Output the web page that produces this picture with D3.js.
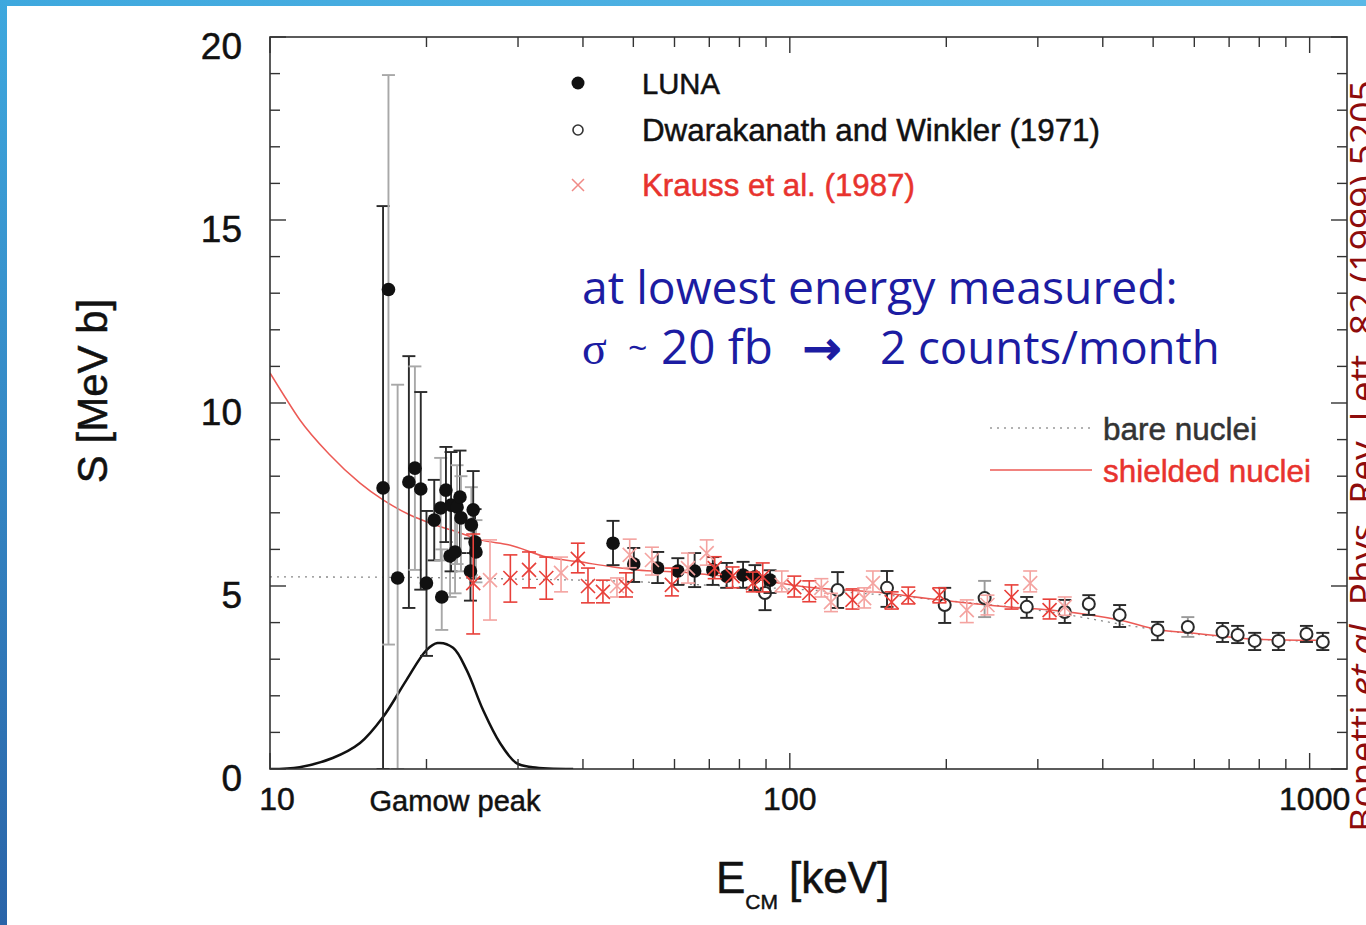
<!DOCTYPE html>
<html>
<head>
<meta charset="utf-8">
<script src="https://cdn.jsdelivr.net/npm/d3@7"></script>
<style>
  body { margin: 0; background: #fff; }
  svg { display: block; }
</style>
</head>
<body>
<div id="chart"></div>
<script>
// LUNA data: [E keV, S MeV b, lower, upper, grey bar]
var luna = [
  [16.5, 7.68, 0, 15.38, 0], [16.9, 13.1, 3.4, 18.96, 1], [17.6, 5.22, 0, 10.5, 1],
  [18.5, 7.84, 4.4, 11.28, 0], [19.0, 8.22, 5.44, 11.0, 1], [19.5, 7.65, 4.9, 10.3, 0],
  [20.0, 5.08, 3.09, 7.05, 0], [20.7, 6.80, 5.7, 7.9, 0], [21.3, 7.13, 5.7, 8.5, 1],
  [21.4, 4.70, 3.8, 6.0, 1], [21.8, 7.62, 6.2, 8.8, 0], [22.2, 5.82, 4.7, 7.2, 1],
  [22.3, 7.21, 5.4, 8.66, 0], [22.7, 5.93, 4.8, 7.3, 1], [22.9, 7.16, 5.6, 8.3, 1],
  [23.2, 7.43, 5.9, 8.7, 0], [23.3, 6.86, 5.4, 8.0, 1], [24.4, 6.67, 5.3, 7.7, 1],
  [24.6, 7.08, 5.9, 8.14, 0], [24.8, 6.20, 5.2, 7.1, 0], [24.9, 5.93, 5.1, 6.8, 1],
  [24.3, 5.41, 4.6, 6.3, 0],
  [45.7, 6.17, 5.57, 6.78, 0], [50.1, 5.60, 5.11, 6.04, 0], [55.7, 5.49, 5.08, 5.93, 0],
  [60.9, 5.41, 5.03, 5.76, 0], [65.6, 5.41, 4.97, 5.90, 0], [71.1, 5.44, 5.03, 5.79, 0],
  [75.6, 5.27, 4.95, 5.63, 0], [81.3, 5.30, 4.95, 5.66, 0], [85.7, 5.25, 4.89, 5.57, 0],
  [91.6, 5.16, 4.81, 5.43, 0]
];

// Dwarakanath and Winkler (1971)
var dwarakanath = [
  [89.6, 4.81, 4.34, 5.25, 0], [123.6, 4.89, 4.40, 5.38, 0], [153.8, 4.95, 4.43, 5.41, 0],
  [198.6, 4.48, 3.99, 4.95, 0], [237, 4.67, 4.15, 5.14, 1], [285.6, 4.43, 4.13, 4.70, 0],
  [338, 4.29, 3.99, 4.62, 0], [376, 4.51, 4.21, 4.75, 0], [431, 4.21, 3.88, 4.48, 0],
  [510, 3.80, 3.52, 4.02, 0], [583, 3.88, 3.61, 4.15, 1], [680, 3.74, 3.47, 3.99, 0],
  [727, 3.66, 3.44, 3.91, 0], [784, 3.50, 3.25, 3.72, 0], [871, 3.50, 3.25, 3.72, 0],
  [986, 3.69, 3.47, 3.91, 0], [1060, 3.47, 3.25, 3.72, 0]
];

// Krauss et al. (1987), last flag = faint
var krauss = [
  [24.6, 5.08, 3.69, 6.42, 0], [26.5, 5.16, 4.07, 6.26, 1], [29.0, 5.22, 4.56, 5.85, 0],
  [31.5, 5.44, 4.95, 5.93, 0], [34.0, 5.22, 4.64, 5.79, 0], [36.3, 5.36, 4.84, 5.79, 1],
  [39.1, 5.74, 5.36, 6.17, 0], [40.9, 5.00, 4.54, 5.49, 0], [43.7, 4.84, 4.54, 5.16, 0],
  [46.5, 5.00, 4.70, 5.22, 1], [48.4, 5.00, 4.70, 5.36, 0], [49.2, 5.85, 5.50, 6.28, 1],
  [54.3, 5.71, 5.30, 6.06, 1], [59.3, 5.03, 4.73, 5.49, 0], [63.7, 5.49, 5.08, 5.90, 1],
  [69.2, 5.90, 5.57, 6.26, 1], [71.7, 5.49, 5.20, 5.80, 0], [77.6, 5.27, 4.95, 5.52, 0],
  [84.9, 5.08, 4.84, 5.38, 0], [88.7, 5.25, 4.84, 5.63, 0], [96.5, 5.03, 4.84, 5.41, 1],
  [102, 4.97, 4.70, 5.27, 0], [109, 4.81, 4.57, 5.14, 0], [115, 4.95, 4.70, 5.20, 1],
  [120, 4.56, 4.30, 4.80, 1], [132, 4.62, 4.37, 4.92, 0], [139, 4.67, 4.40, 4.95, 1],
  [144.5, 5.08, 4.84, 5.41, 1], [157, 4.56, 4.37, 4.84, 0], [169, 4.70, 4.51, 4.97, 0],
  [194, 4.75, 4.54, 4.95, 0], [219, 4.34, 4.00, 4.62, 1], [240, 4.48, 4.21, 4.75, 1],
  [267, 4.70, 4.37, 5.03, 0], [290, 5.08, 4.84, 5.41, 1], [316, 4.34, 4.10, 4.64, 0],
  [338, 4.43, 4.20, 4.70, 1]
];

// curves: [E, S]
var shielded = [
  [10, 10.82], [10.7, 10.15], [11.4, 9.55], [13.0, 8.6], [14.9, 7.81], [16.5, 7.35],
  [18.6, 6.94], [20.3, 6.72], [23.2, 6.45], [25.4, 6.26], [28.9, 6.12], [34.1, 5.79],
  [39.4, 5.66], [45.7, 5.52], [50.8, 5.44], [61.4, 5.38], [71.1, 5.30], [82.6, 5.22],
  [92.7, 5.11], [107.9, 4.97], [144.5, 4.84], [194, 4.62], [261, 4.43], [320, 4.34],
  [431, 4.07], [515, 3.80], [588, 3.72], [680, 3.63], [777, 3.55], [956, 3.52], [1030, 3.52]
];
var bare = [
  [10, 5.25], [20, 5.23], [30, 5.19], [50, 5.12], [70, 5.02], [100, 4.92], [150, 4.76],
  [200, 4.6], [300, 4.34], [500, 3.82], [700, 3.6], [1000, 3.5], [1030, 3.5]
];
var gamow = [
  [10, 0], [11.4, 0.05], [13.2, 0.30], [14.9, 0.71], [16.5, 1.42], [18.3, 2.43],
  [20.0, 3.25], [21.0, 3.44], [22.5, 3.31], [23.9, 2.70], [25.7, 1.61], [27.7, 0.71],
  [29.8, 0.16], [32.0, 0.05], [38.3, 0]
];

var yTicks = [0, 5, 10, 15, 20];
var xTicks = [10, 100, 1000];

var width = 1366, height = 925;
var pLeft = 270, pRight = 1347, pTop = 37, pBottom = 769;

var x = d3.scaleLog().domain([10, 1180]).range([pLeft, pRight]);
var y = d3.scaleLinear().domain([0, 20]).range([pBottom, pTop]);

var svg = d3.select("#chart").append("svg")
    .attr("width", width)
    .attr("height", height);

var defs = svg.append("defs");
var gTop = defs.append("linearGradient").attr("id", "topband");
gTop.append("stop").attr("offset", "0%").attr("stop-color", "#3ea8de");
gTop.append("stop").attr("offset", "100%").attr("stop-color", "#5bb8e6");
var gLeft = defs.append("linearGradient").attr("id", "leftband")
    .attr("x1", 0).attr("y1", 0).attr("x2", 0).attr("y2", 1);
gLeft.append("stop").attr("offset", "0%").attr("stop-color", "#3ea8de");
gLeft.append("stop").attr("offset", "100%").attr("stop-color", "#2a64a8");
defs.append("clipPath").attr("id", "plotclip")
    .append("rect").attr("x", pLeft).attr("y", pTop)
    .attr("width", pRight - pLeft).attr("height", pBottom - pTop);

// slide border
svg.append("rect").attr("x", 0).attr("y", 0).attr("width", width).attr("height", 6)
    .attr("fill", "url(#topband)");
svg.append("rect").attr("x", 0).attr("y", 0).attr("width", 7).attr("height", height)
    .attr("fill", "url(#leftband)");

var plot = svg.append("g").attr("clip-path", "url(#plotclip)");

var line = d3.line()
    .x(function(d) { return x(d[0]); })
    .y(function(d) { return y(d[1]); })
    .curve(d3.curveMonotoneX);

// bare nuclei (dotted)
plot.append("path").datum(bare)
    .attr("d", line).attr("fill", "none")
    .attr("stroke", "#888").attr("stroke-width", 1.3)
    .attr("stroke-dasharray", "2,5");

// shielded nuclei
plot.append("path").datum(shielded)
    .attr("d", line).attr("fill", "none")
    .attr("stroke", "#ec5a55").attr("stroke-width", 1.5);

// Gamow peak
plot.append("path").datum(gamow)
    .attr("d", line.curve(d3.curveCatmullRom.alpha(0.5))).attr("fill", "none")
    .attr("stroke", "#111").attr("stroke-width", 2.5);
line.curve(d3.curveMonotoneX);

function errorBars(g, data, colorFn, cap, sw) {
    var eb = g.selectAll(null).data(data).enter().append("g")
        .attr("stroke", colorFn).attr("stroke-width", sw);
    eb.append("line")
        .attr("x1", function(d) { return x(d[0]); })
        .attr("x2", function(d) { return x(d[0]); })
        .attr("y1", function(d) { return y(d[2]); })
        .attr("y2", function(d) { return y(d[3]); });
    eb.append("line")
        .attr("x1", function(d) { return x(d[0]) - cap; })
        .attr("x2", function(d) { return x(d[0]) + cap; })
        .attr("y1", function(d) { return y(d[3]); })
        .attr("y2", function(d) { return y(d[3]); });
    eb.append("line")
        .attr("x1", function(d) { return x(d[0]) - cap; })
        .attr("x2", function(d) { return x(d[0]) + cap; })
        .attr("y1", function(d) { return y(d[2]); })
        .attr("y2", function(d) { return y(d[2]); });
}

// Dwarakanath
errorBars(plot, dwarakanath, function(d) { return d[4] ? "#9a9a9a" : "#2a2a2a"; }, 6.5, 1.9);
plot.selectAll(null).data(dwarakanath).enter().append("circle")
    .attr("cx", function(d) { return x(d[0]); })
    .attr("cy", function(d) { return y(d[1]); })
    .attr("r", 6)
    .attr("fill", "#fff").attr("stroke", "#2a2a2a").attr("stroke-width", 2);

// LUNA
errorBars(plot, luna, function(d) { return d[4] ? "#a8a8a8" : "#2a2a2a"; }, 6.5, 1.9);
plot.selectAll(null).data(luna).enter().append("circle")
    .attr("cx", function(d) { return x(d[0]); })
    .attr("cy", function(d) { return y(d[1]); })
    .attr("r", 6.8)
    .attr("fill", "#111");

// Krauss
var kColor = function(d) { return d[4] ? "#f4a3a0" : "#e8403a"; };
errorBars(plot, krauss, kColor, 7, 1.6);
plot.selectAll(null).data(krauss).enter().append("path")
    .attr("d", function(d) {
        var cx = x(d[0]), cy = y(d[1]), s = 7;
        return "M" + (cx - s) + "," + (cy - s) + "L" + (cx + s) + "," + (cy + s) +
               "M" + (cx - s) + "," + (cy + s) + "L" + (cx + s) + "," + (cy - s);
    })
    .attr("stroke", kColor).attr("stroke-width", 1.6).attr("fill", "none");

// frame + ticks
var axisColor = "#333";
svg.append("rect").attr("x", pLeft).attr("y", pTop)
    .attr("width", pRight - pLeft).attr("height", pBottom - pTop)
    .attr("fill", "none").attr("stroke", axisColor).attr("stroke-width", 1.6);

var yMinor = d3.range(0, 21);
var ticksG = svg.append("g").attr("stroke", axisColor).attr("stroke-width", 1.4);
yMinor.forEach(function(v) {
    var len = (v % 5 === 0) ? 16 : 10;
    ticksG.append("line").attr("x1", pLeft).attr("x2", pLeft + len).attr("y1", y(v)).attr("y2", y(v));
    ticksG.append("line").attr("x1", pRight).attr("x2", pRight - len).attr("y1", y(v)).attr("y2", y(v));
});
var xMinor = [];
[10, 100, 1000].forEach(function(dec) {
    for (var k = 1; k < 10; k++) {
        var v = dec * k;
        if (v >= 10 && v <= 1180) xMinor.push(v);
    }
});
xMinor.forEach(function(v) {
    var len = (xTicks.indexOf(v) >= 0) ? 16 : 10;
    ticksG.append("line").attr("x1", x(v)).attr("x2", x(v)).attr("y1", pBottom).attr("y2", pBottom - len);
    ticksG.append("line").attr("x1", x(v)).attr("x2", x(v)).attr("y1", pTop).attr("y2", pTop + len);
});

var sans = "'Liberation Sans', Arial, Helvetica, sans-serif";

function fitWidth(t, w) {
    var fs = +t.attr("font-size");
    var cur = t.node().getComputedTextLength();
    t.attr("font-size", fs * w / cur);
}
function heavy(t, c) {
    return t.attr("stroke", c).attr("stroke-width", 0.5);
}

svg.selectAll(".ylab").data(yTicks).enter().append("text")
    .attr("x", 242)
    .attr("y", function(d) { return y(d) + 22; })
    .attr("text-anchor", "end")
    .attr("font-family", sans).attr("font-size", 37).attr("fill", "#111")
    .attr("stroke", "#111").attr("stroke-width", 0.5)
    .text(function(d) { return d; });

svg.selectAll(".xlab").data(xTicks).enter().append("text")
    .attr("x", function(d) { return x(d) + (d === 10 ? 7 : (d === 1000 ? 5 : 0)); })
    .attr("y", 810)
    .attr("text-anchor", "middle")
    .attr("font-family", sans).attr("font-size", 32).attr("fill", "#111")
    .attr("stroke", "#111").attr("stroke-width", 0.5)
    .text(function(d) { return d; });

heavy(svg.append("text").attr("x", 455).attr("y", 811)
    .attr("text-anchor", "middle")
    .attr("font-family", sans).attr("font-size", 29).attr("fill", "#111")
    .text("Gamow peak"), "#111");

// axis titles
heavy(svg.append("text")
    .attr("transform", "translate(107,391) rotate(-90)")
    .attr("text-anchor", "middle")
    .attr("font-family", sans).attr("font-size", 42).attr("fill", "#111")
    .text("S [MeV b]"), "#111");

var xt = svg.append("text").attr("x", 716).attr("y", 893)
    .attr("font-family", sans).attr("font-size", 44).attr("fill", "#111")
    .attr("stroke", "#111").attr("stroke-width", 0.5);
xt.append("tspan").text("E");
xt.append("tspan").attr("font-size", 21).attr("dy", 16).text("CM");
xt.append("tspan").attr("x", 789).attr("dy", -16).text("[keV]");

// legend (data sets)
var legY = [83, 130, 185];
svg.append("circle").attr("cx", 578).attr("cy", legY[0]).attr("r", 6.5).attr("fill", "#111");
svg.append("circle").attr("cx", 578).attr("cy", legY[1]).attr("r", 5)
    .attr("fill", "#fff").attr("stroke", "#333").attr("stroke-width", 1.6);
svg.append("path")
    .attr("d", "M572," + (legY[2] - 6) + "L584," + (legY[2] + 6) + "M572," + (legY[2] + 6) + "L584," + (legY[2] - 6))
    .attr("stroke", "#f08a86").attr("stroke-width", 1.5);
var legNames = ["LUNA", "Dwarakanath and Winkler (1971)", "Krauss et al. (1987)"];
var legColors = ["#111", "#111", "#e8332e"];
var legWidths = [78, 458, 273];
legNames.forEach(function(n, i) {
    var t = svg.append("text").attr("x", 642).attr("y", legY[i] + 11)
        .attr("font-family", sans).attr("font-size", 30).attr("fill", legColors[i])
        .text(n);
    heavy(t, legColors[i]);
    fitWidth(t, legWidths[i]);
});

// legend (curves)
svg.append("line").attr("x1", 990).attr("x2", 1090).attr("y1", 428).attr("y2", 428)
    .attr("stroke", "#999").attr("stroke-width", 1.3).attr("stroke-dasharray", "2,5");
svg.append("line").attr("x1", 990).attr("x2", 1092).attr("y1", 470).attr("y2", 470)
    .attr("stroke", "#ec5a55").attr("stroke-width", 1.6);
var bn = heavy(svg.append("text").attr("x", 1103).attr("y", 440)
    .attr("font-family", sans).attr("font-size", 30).attr("fill", "#333").text("bare nuclei"), "#333");
fitWidth(bn, 154);
var sn = heavy(svg.append("text").attr("x", 1103).attr("y", 482)
    .attr("font-family", sans).attr("font-size", 30).attr("fill", "#e8332e").text("shielded nuclei"), "#e8332e");
fitWidth(sn, 208);

// annotation
var blue = "#1c1ca2";
var ann = "'Open Sans', 'Noto Sans', sans-serif";
var a1 = svg.append("text").attr("x", 582).attr("y", 304)
    .attr("font-family", ann).attr("font-size", 44).attr("fill", blue)
    .text("at lowest energy measured:");
fitWidth(a1, 596);

svg.append("text").attr("x", 582).attr("y", 364)
    .attr("font-family", "'Liberation Serif', 'DejaVu Serif', serif").attr("font-size", 46)
    .attr("fill", blue).text("σ");
svg.append("text").attr("x", 628).attr("y", 360)
    .attr("font-family", ann).attr("font-size", 34).attr("fill", blue).text("~");
var a2 = svg.append("text").attr("x", 661).attr("y", 364)
    .attr("font-family", ann).attr("font-size", 44).attr("fill", blue).text("20 fb");
fitWidth(a2, 112);
svg.append("text").attr("x", 803).attr("y", 364)
    .attr("font-family", "'DejaVu Sans', sans-serif").attr("font-size", 46)
    .attr("fill", blue).attr("stroke", blue).attr("stroke-width", 1.6).text("→");
var a3 = svg.append("text").attr("x", 880).attr("y", 364)
    .attr("font-family", ann).attr("font-size", 44).attr("fill", blue).text("2 counts/month");
fitWidth(a3, 340);

// citation on the right edge
var cite = svg.append("text")
    .attr("transform", "translate(1376,832) rotate(-90)")
    .attr("font-family", ann).attr("font-size", 34).attr("fill", "#8e0c0c");
cite.append("tspan").text("Bonetti ");
cite.append("tspan").attr("font-style", "italic").text("et al.");
cite.append("tspan").text(" Phys. Rev. Lett. 82 (1999) 5205");
fitWidth(cite, 752);
</script>
</body>
</html>
